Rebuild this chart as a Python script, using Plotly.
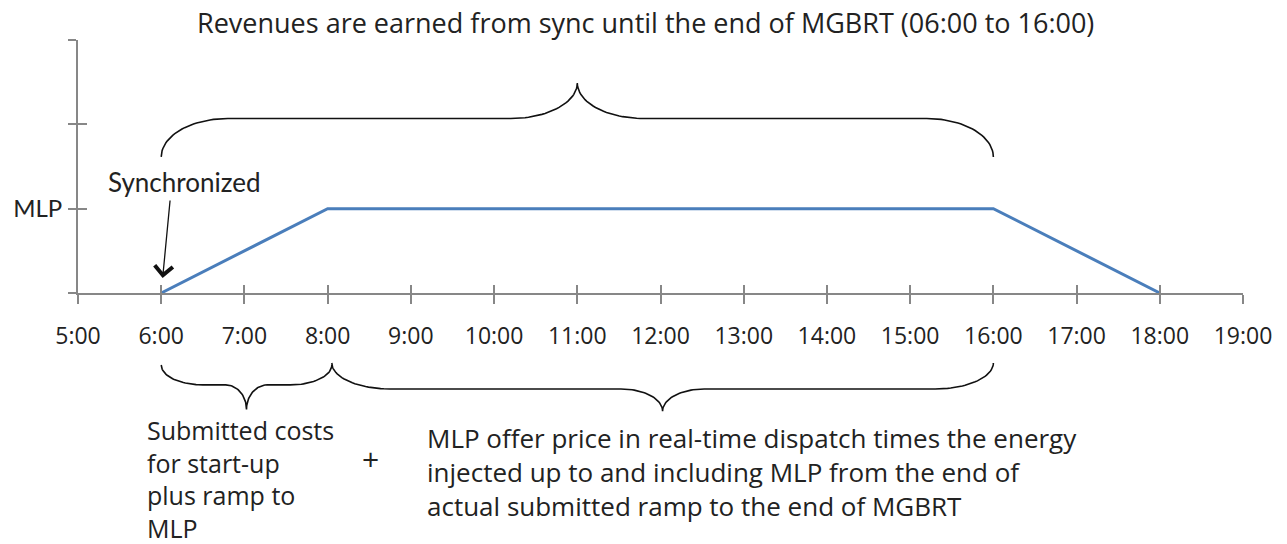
import numpy as np
import plotly.graph_objects as go

# ---------------- data ----------------
hours = list(range(5, 20))
hour_labels = [f"{h}:00" for h in hours]
output_x = [6, 8, 16, 18]          # sync, end of ramp, end of MGBRT, off
output_y = [0, 1, 1, 0]            # 1 = MLP
y_tickvals = [0, 1, 2, 3]
y_ticktext = ["", "MLP", "", ""]
top_brace_span = [6, 16]
bottom_brace1_span = [6, 8.05]
bottom_brace2_span = [8.05, 16]

title_text = "Revenues are earned from sync until the end of MGBRT (06:00 to 16:00)"
left_text = "Submitted costs<br>for start-up<br>plus ramp to<br>MLP"
right_text = ("MLP offer price in real-time dispatch times the energy<br>"
              "injected up to and including MLP from the end of<br>"
              "actual submitted ramp to the end of MGBRT")

# ---------------- geometry ----------------
W, H = 1287, 544
PX_L, PX_R = 78, 1243      # x pixel of 5:00 and 19:00
PX_B, PX_T = 293, 40       # y pixel of 0 and 3
kx = (PX_R - PX_L) / (hours[-1] - hours[0])
ky = (PX_B - PX_T) / 3.0

def px2paper_x(p):
    return p / W

def px2paper_y(p):
    return 1 - p / H

AX = "#878787"
TXT = "#222222"
TAHOMA = "Open Sans, DejaVu Sans, sans-serif"
CALIBRI = "Lato, Open Sans, sans-serif"


def brace(x0, x1, y_end, y_mid, y_tip, r_end, r_tip, n=30):
    xm = (x0 + x1) / 2
    t1 = np.linspace(np.pi, np.pi / 2, n)
    xs = list(x0 + r_end + r_end * np.cos(t1))
    ys = list(y_end + (y_mid - y_end) * np.sin(t1))
    t2 = np.linspace(-np.pi / 2, 0, n)
    xs += list(xm - r_tip + r_tip * np.cos(t2))
    ys += list(y_tip + (y_tip - y_mid) * np.sin(t2))
    xr = [2 * xm - v for v in xs[::-1]]
    yr = ys[::-1]
    return xs + xr[1:], ys + yr[1:]


fig = go.Figure()

fig.add_trace(go.Scatter(x=output_x, y=output_y, mode="lines",
                         line=dict(color="#4A7EBB", width=3),
                         xaxis="x", yaxis="y", hoverinfo="skip", showlegend=False))

# invisible trace for crossing-tick overlay axes
fig.add_trace(go.Scatter(x=[None], y=[None], mode="lines", xaxis="x3", yaxis="y3",
                         hoverinfo="skip", showlegend=False))

# braces (drawn on full-canvas overlay axes with same units)
bx, by = brace(top_brace_span[0], top_brace_span[1], 1.613, 2.069, 2.49, 0.8, 0.8)
fig.add_trace(go.Scatter(x=bx, y=by, mode="lines", line=dict(color="#111111", width=1.6),
                         xaxis="x2", yaxis="y2", hoverinfo="skip", showlegend=False))
bx, by = brace(bottom_brace1_span[0], bottom_brace1_span[1], -0.854, -1.09, -1.38, 0.5, 0.25)
fig.add_trace(go.Scatter(x=bx, y=by, mode="lines", line=dict(color="#111111", width=1.6),
                         xaxis="x2", yaxis="y2", hoverinfo="skip", showlegend=False))
bx, by = brace(bottom_brace2_span[0], bottom_brace2_span[1], -0.83, -1.138, -1.40, 0.7, 0.5)
fig.add_trace(go.Scatter(x=bx, y=by, mode="lines", line=dict(color="#111111", width=1.6),
                         xaxis="x2", yaxis="y2", hoverinfo="skip", showlegend=False))

xdom = [px2paper_x(PX_L), px2paper_x(PX_R)]
ydom = [px2paper_y(PX_B), px2paper_y(PX_T)]
xr = [hours[0], hours[-1]]

fig.update_layout(
    width=W, height=H,
    margin=dict(l=0, r=0, t=0, b=0, pad=0, autoexpand=False),
    paper_bgcolor="white", plot_bgcolor="rgba(0,0,0,0)",
    showlegend=False,
    xaxis=dict(domain=xdom, range=xr, anchor="y", tickvals=hours, ticktext=hour_labels,
               ticks="outside", ticklen=9, tickwidth=2, tickcolor=AX,
               showline=True, linecolor=AX, linewidth=2, showgrid=False, zeroline=False,
               tickfont=dict(family=TAHOMA, size=23, color=TXT), ticklabelstandoff=12,
               fixedrange=True, automargin=False),
    yaxis=dict(domain=ydom, range=[0, 3], anchor="x", tickvals=y_tickvals, ticktext=y_ticktext,
               ticks="outside", ticklen=8, tickwidth=2, tickcolor=AX,
               showline=True, linecolor=AX, linewidth=2, showgrid=False, zeroline=False,
               tickfont=dict(family=CALIBRI, size=24, color=TXT), ticklabelstandoff=1,
               fixedrange=True, automargin=False),
    xaxis3=dict(overlaying="x", anchor="y3", range=xr, tickvals=hours, ticks="inside",
                ticklen=8, tickwidth=2, tickcolor=AX, showticklabels=False, showline=False,
                showgrid=False, zeroline=False, side="bottom", automargin=False),
    yaxis3=dict(overlaying="y", anchor="x3", range=[0, 3], tickvals=y_tickvals, ticks="inside",
                ticklen=9, tickwidth=2, tickcolor=AX, showticklabels=False, showline=False,
                showgrid=False, zeroline=False, side="left", automargin=False),
    xaxis2=dict(domain=[0, 1], anchor="y2", range=[hours[0] - PX_L / kx, hours[-1] + (W - PX_R) / kx],
                visible=False, fixedrange=True, automargin=False),
    yaxis2=dict(domain=[0, 1], anchor="x2", range=[-(H - PX_B) / ky, 3 + PX_T / ky],
                visible=False, fixedrange=True, automargin=False),
)

ann = [
    dict(text=title_text, xref="paper", yref="paper", x=px2paper_x(645), y=px2paper_y(23),
         xanchor="center", yanchor="middle", showarrow=False,
         font=dict(family=TAHOMA, size=27, color=TXT)),
    dict(text="Synchronized", xref="paper", yref="paper", x=px2paper_x(184), y=px2paper_y(182),
         xanchor="center", yanchor="middle", showarrow=False,
         font=dict(family=CALIBRI, size=26, color=TXT)),
    dict(text="", xref="x", yref="y", x=output_x[0], y=output_y[0], ax=9, ay=-94,
         axref="pixel", ayref="pixel", showarrow=True, arrowhead=4, arrowsize=2.7,
         arrowwidth=1.3, arrowcolor="#111111", standoff=15),
    dict(text="+", xref="paper", yref="paper", x=px2paper_x(370), y=px2paper_y(458),
         xanchor="center", yanchor="middle", showarrow=False,
         font=dict(family=TAHOMA, size=30, color=TXT)),
    dict(text=left_text, xref="paper", yref="paper", x=px2paper_x(145), y=px2paper_y(411),
         xanchor="left", yanchor="top", align="left", showarrow=False,
         font=dict(family=TAHOMA, size=25, color=TXT)),
    dict(text=right_text, xref="paper", yref="paper", x=px2paper_x(425), y=px2paper_y(418),
         xanchor="left", yanchor="top", align="left", showarrow=False,
         font=dict(family=TAHOMA, size=26, color=TXT)),
]
fig.update_layout(annotations=ann)

fig.write_html("out.html", config={"displayModeBar": False},
               post_script="document.body.style.margin='0';document.body.style.overflow='hidden';")
